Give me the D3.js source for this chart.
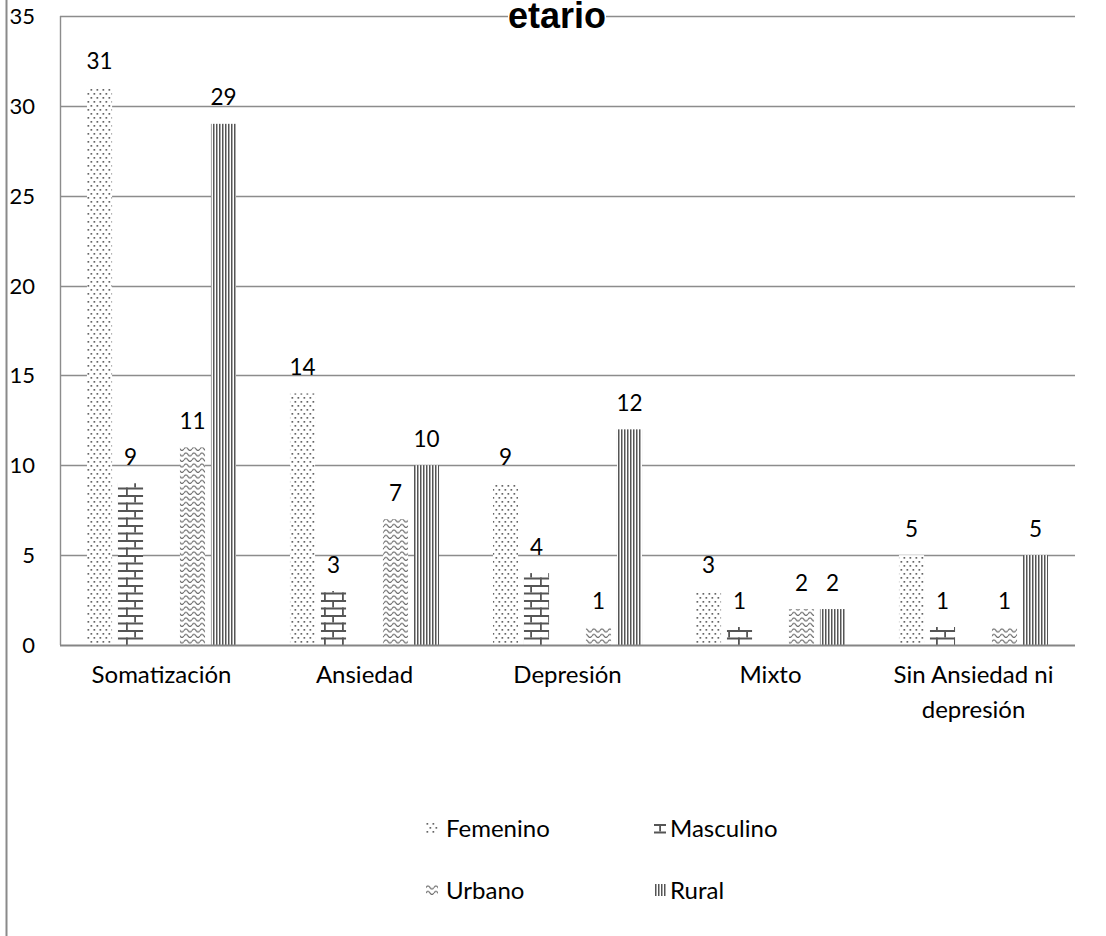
<!DOCTYPE html>
<html>
<head>
<meta charset="utf-8">
<script src="https://cdn.jsdelivr.net/npm/d3@7"></script>
<style>
  html, body { margin: 0; padding: 0; background: #fff; }
  svg { display: block; }
  text { font-family: Lato, "Open Sans", sans-serif; fill: #000; }
</style>
</head>
<body>
<svg id="chart" width="1106" height="936"></svg>
<script>
// Data
const categories = ["Somatización", "Ansiedad", "Depresión", "Mixto", "Sin Ansiedad ni depresión"];
const seriesNames = ["Femenino", "Masculino", "Urbano", "Rural"];
const femenino  = [31, 14, 9, 3, 5];
const masculino = [9, 3, 4, 1, 1];
const urbano    = [11, 7, 1, 2, 1];
const rural     = [29, 10, 12, 2, 5];
const yTicks = [0, 5, 10, 15, 20, 25, 30, 35];
const titleText = "etario";

const seriesValues = { Femenino: femenino, Masculino: masculino, Urbano: urbano, Rural: rural };
// the two sex bars and the two area bars sit in separate pairs with an empty slot between
const slots = ["Femenino", "Masculino", "_sep", "Urbano", "Rural"];

const svg = d3.select("#chart");
const W = 1106, H = 936;
const plot = { left: 60, right: 1075, top: 16, bottom: 645 };

// ---- fill patterns ----
const defs = svg.append("defs");
const ink = "#555";

// each builder takes an id and a tiling origin (ox, oy)
const patternBuilders = {
  Femenino(id, ox, oy) {
    const p = defs.append("pattern").attr("id", id).attr("x", ox).attr("y", oy)
      .attr("patternUnits", "userSpaceOnUse").attr("width", 6).attr("height", 8);
    p.append("rect").attr("width", 6).attr("height", 8).attr("fill", "#fff");
    p.append("rect").attr("x", 0.5).attr("y", 1).attr("width", 1.7).attr("height", 1.7).attr("fill", "#666");
    p.append("rect").attr("x", 3.5).attr("y", 5).attr("width", 1.7).attr("height", 1.7).attr("fill", "#666");
  },
  Masculino(id, ox, oy) {
    const p = defs.append("pattern").attr("id", id).attr("x", ox).attr("y", oy)
      .attr("patternUnits", "userSpaceOnUse").attr("width", 18).attr("height", 15);
    p.append("rect").attr("width", 18).attr("height", 15).attr("fill", "#fff");
    p.append("rect").attr("x", 0).attr("y", 0).attr("width", 18).attr("height", 2).attr("fill", ink);
    p.append("rect").attr("x", 0).attr("y", 7.5).attr("width", 18).attr("height", 2).attr("fill", ink);
    p.append("rect").attr("x", 8.2).attr("y", 0).attr("width", 1.8).attr("height", 7.5).attr("fill", ink);
    p.append("rect").attr("x", 0).attr("y", 7.5).attr("width", 1.8).attr("height", 7.5).attr("fill", ink);
  },
  Urbano(id, ox, oy) {
    const p = defs.append("pattern").attr("id", id).attr("x", ox).attr("y", oy)
      .attr("patternUnits", "userSpaceOnUse").attr("width", 8).attr("height", 5.5);
    p.append("rect").attr("width", 8).attr("height", 5.5).attr("fill", "#fff");
    p.append("path").attr("d", "M0,3.5 Q2,0.5 4,3.5 T8,3.5")
      .attr("fill", "none").attr("stroke", "#666").attr("stroke-width", 1.1);
  },
  Rural(id, ox, oy) {
    const p = defs.append("pattern").attr("id", id).attr("x", ox).attr("y", oy)
      .attr("patternUnits", "userSpaceOnUse").attr("width", 3).attr("height", 4);
    p.append("rect").attr("width", 3).attr("height", 4).attr("fill", "#fff");
    p.append("rect").attr("x", 0).attr("width", 1.5).attr("height", 4).attr("fill", ink);
  }
};
seriesNames.forEach(s => patternBuilders[s](`pat-${s}`, 0, 0));

// ---- scales ----
const x0 = d3.scaleBand().domain(categories).range([plot.left, plot.right]).padding(0);
const x1 = d3.scaleBand().domain(slots).range([0, x0.bandwidth()])
  .paddingInner(0.19).paddingOuter(0.87);
const y = d3.scaleLinear().domain([0, 35]).range([plot.bottom, plot.top]);

// outer frame line on the left
svg.append("line").attr("x1", 6.5).attr("x2", 6.5).attr("y1", 0).attr("y2", H)
  .attr("stroke", "#8a8a8a").attr("stroke-width", 2);

// gridlines
svg.append("g").selectAll("line").data(yTicks.filter(t => t > 0)).join("line")
  .attr("x1", plot.left).attr("x2", plot.right)
  .attr("y1", d => Math.round(y(d)) + 0.5).attr("y2", d => Math.round(y(d)) + 0.5)
  .attr("stroke", "#8c8c8c").attr("stroke-width", 1.4);

// y axis line
svg.append("line").attr("x1", plot.left + 0.5).attr("x2", plot.left + 0.5)
  .attr("y1", plot.top).attr("y2", plot.bottom)
  .attr("stroke", "#8c8c8c").attr("stroke-width", 1.4);

// y tick labels
const yAxis = d3.axisLeft(y).tickValues(yTicks).tickSize(0).tickPadding(0).tickFormat(d3.format("d"));
const gy = svg.append("g").attr("transform", `translate(35,0)`).call(yAxis);
gy.select(".domain").remove();
gy.selectAll("text").style("font-size", "22px").attr("dy", "0.34em").attr("fill", "#000");

// bars
const rows = [];
seriesNames.forEach(s => {
  seriesValues[s].forEach((v, i) => rows.push({ series: s, cat: categories[i], value: v }));
});

svg.append("g").selectAll("rect").data(rows).join("rect")
  .attr("x", d => x0(d.cat) + x1(d.series))
  .attr("width", x1.bandwidth())
  .attr("y", d => y(d.value))
  .attr("height", d => y(0) - y(d.value))
  .attr("fill", d => `url(#pat-${d.series})`);

// value labels
svg.append("g").selectAll("text").data(rows).join("text")
  .attr("x", d => x0(d.cat) + x1(d.series) + x1.bandwidth() / 2)
  .attr("y", d => y(d.value) - 18.5)
  .attr("text-anchor", "middle")
  .style("font-size", "22.5px")
  .text(d => d.value);

// x axis line
svg.append("line").attr("x1", plot.left).attr("x2", plot.right)
  .attr("y1", plot.bottom + 0.5).attr("y2", plot.bottom + 0.5)
  .attr("stroke", "#858585").attr("stroke-width", 2);

// category labels, wrapped to the band width
const xAxis = d3.axisBottom(x0).tickSize(0).tickPadding(0);
const gx = svg.append("g").attr("transform", `translate(0,${plot.bottom})`).call(xAxis);
gx.select(".domain").remove();
gx.selectAll("text").style("font-size", "24px").attr("y", 38).attr("dy", 0)
  .each(function (d) {
    const t = d3.select(this);
    const words = d.split(" ");
    t.text(null);
    let line = [], lineNo = 0;
    let tspan = t.append("tspan").attr("x", 0).attr("y", 38);
    words.forEach(w => {
      line.push(w);
      tspan.text(line.join(" "));
      if (tspan.node().getComputedTextLength() > x0.bandwidth() - 20 && line.length > 1) {
        line.pop();
        tspan.text(line.join(" "));
        line = [w];
        lineNo++;
        tspan = t.append("tspan").attr("x", 0).attr("y", 38 + lineNo * 35).text(w);
      }
    });
  });

// title (its earlier lines fall above the canvas); a white backing hides the gridline behind it
const titleG = svg.append("g");
const titleBg = titleG.append("rect").attr("fill", "#fff");
const title = titleG.append("text").attr("x", 557).attr("y", 28)
  .attr("text-anchor", "middle")
  .style("font-family", "'Liberation Sans', Arial, sans-serif")
  .style("font-weight", "bold").style("font-size", "36px")
  .text(titleText);
const tb = title.node().getBBox();
titleBg.attr("x", tb.x).attr("y", 10).attr("width", tb.width).attr("height", 12);

// legend
const legendPos = [
  { name: "Femenino",  x: 426, y: 828 },
  { name: "Masculino", x: 654, y: 828 },
  { name: "Urbano",    x: 426, y: 890 },
  { name: "Rural",     x: 654, y: 890 }
];
// swatch patterns tiled from each swatch's own corner
const swatchOffset = { Femenino: [0, 0], Masculino: [-3, 2], Urbano: [0, 0], Rural: [1, 0] };
legendPos.forEach(d => {
  const [dx, dy] = swatchOffset[d.name];
  patternBuilders[d.name](`leg-${d.name}`, d.x + dx, d.y - 6 + dy);
});
const lg = svg.append("g").selectAll("g").data(legendPos).join("g")
  .attr("transform", d => `translate(${d.x},${d.y})`);
lg.append("rect").attr("x", 0).attr("y", -6).attr("width", 12).attr("height", 12)
  .attr("transform", d => `translate(${-d.x},${-d.y})`)
  .attr("x", d => d.x).attr("y", d => d.y - 6)
  .attr("fill", d => `url(#leg-${d.name})`);
lg.append("text").attr("x", d => d.name === "Femenino" || d.name === "Urbano" ? 20 : 16)
  .attr("y", 0).attr("dy", "0.36em")
  .style("font-size", "24px")
  .text(d => d.name);
</script>
</body>
</html>
